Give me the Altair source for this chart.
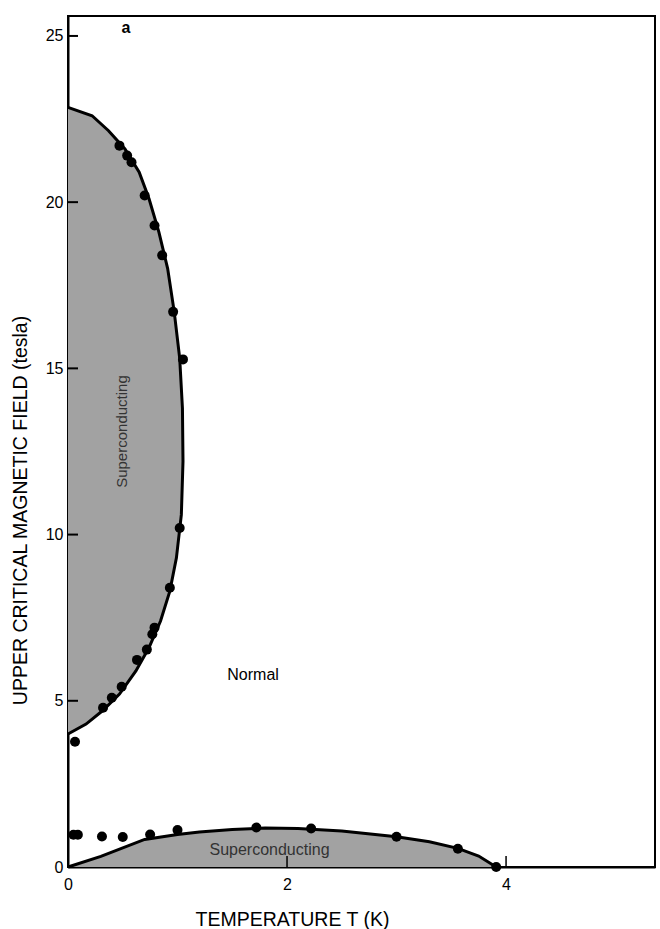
import altair as alt
import pandas as pd

# Upper superconducting dome boundary (T in K, field in tesla)
upper_curve_t = [0, 0.22, 0.37, 0.52, 0.65, 0.74, 0.83, 0.91, 0.97, 1.02, 1.045, 1.05,
                 1.035, 0.99, 0.93, 0.845, 0.74, 0.62, 0.47, 0.315, 0.165, 0]
upper_curve_h = [22.85, 22.6, 22.15, 21.6, 20.9, 20.1, 19.1, 18.0, 16.7, 15.3, 13.8, 12.2,
                 10.6, 9.3, 8.3, 7.4, 6.6, 5.9, 5.2, 4.7, 4.3, 4.0]

# Lower superconducting dome boundary
lower_curve_t = [0, 0.3, 0.7, 1.0, 1.2, 1.5, 1.8, 2.1, 2.5, 3.0, 3.3, 3.56, 3.75, 3.91]
lower_curve_h = [0, 0.32, 0.83, 0.98, 1.05, 1.13, 1.17, 1.16, 1.08, 0.91, 0.76, 0.56, 0.33, 0]

# Measured points
upper_pts_t = [0.064, 0.32, 0.40, 0.49, 0.63, 0.72, 0.77, 0.79, 0.93, 1.02, 1.05, 0.96,
               0.86, 0.79, 0.70, 0.58, 0.54, 0.47]
upper_pts_h = [3.77, 4.79, 5.09, 5.42, 6.23, 6.54, 7.0, 7.2, 8.4, 10.2, 15.27, 16.7,
               18.4, 19.3, 20.2, 21.2, 21.4, 21.7]
lower_pts_t = [0.05, 0.09, 0.31, 0.50, 0.75, 1.00, 1.72, 2.22, 3.00, 3.56, 3.91]
lower_pts_h = [0.97, 0.97, 0.92, 0.90, 0.98, 1.11, 1.19, 1.16, 0.91, 0.55, 0.0]

# Axis ticks
x_ticks = [0, 2, 4]
y_ticks = [0, 5, 10, 15, 20, 25]

# Annotations
labels_text = ["Normal", "a"]
labels_t = [1.69, 0.53]
labels_h = [5.77, 25.25]
sc_text = ["Superconducting", "Superconducting"]
sc_t = [0.49, 1.84]
sc_h = [13.1, 0.51]
sc_angle = [270, 0]

FONT = "Liberation Sans"
XDOM = [0, 5.36]
YDOM = [0, 25.6]
FILL = "#a2a2a2"

upper_df = pd.DataFrame({"t": upper_curve_t, "h": upper_curve_h,
                         "z": [0.0] * len(upper_curve_t),
                         "i": list(range(len(upper_curve_t)))})
lower_df = pd.DataFrame({"t": lower_curve_t, "h": lower_curve_h,
                         "z": [0.0] * len(lower_curve_t),
                         "i": list(range(len(lower_curve_t)))})
pts_df = pd.DataFrame({"t": upper_pts_t + lower_pts_t, "h": upper_pts_h + lower_pts_h})
lab_df = pd.DataFrame({"t": labels_t, "h": labels_h, "txt": labels_text})
sc_df = pd.DataFrame({"t": sc_t, "h": sc_h, "txt": sc_text, "ang": sc_angle})
xt_df = pd.DataFrame({"v": [v for v in x_ticks if v != 0]})
yt_df = pd.DataFrame({"v": [v for v in y_ticks if v != 0]})

xscale = alt.Scale(domain=XDOM, nice=False, zero=False)
yscale = alt.Scale(domain=YDOM, nice=False, zero=False)

xaxis = alt.Axis(values=x_ticks, format="d", title="TEMPERATURE T (K)", grid=False, ticks=False,
                 tickSize=0, labelFlush=False, labelPadding=9, labelFontSize=16, labelFont=FONT,
                 labelColor="black", domainColor="black", domainWidth=2,
                 titleFont=FONT, titleFontSize=19.5, titleFontWeight="normal", titleColor="black",
                 titleX=224, titleY=58, titleBaseline="alphabetic", titleAlign="center")
yaxis = alt.Axis(values=y_ticks, format="d", title="UPPER CRITICAL MAGNETIC FIELD (tesla)",
                 grid=False, ticks=False, tickSize=0, labelFlush=False, labelPadding=5,
                 labelFontSize=16, labelFont=FONT, labelColor="black", labelBaseline="middle",
                 domainColor="black", domainWidth=2,
                 titleFont=FONT, titleFontSize=19.5, titleFontWeight="normal", titleColor="black",
                 titleX=-48, titleY=494, titleBaseline="middle", titleAlign="center", titleAngle=270)

upper_area = alt.Chart(upper_df).mark_area(orient="horizontal", color=FILL).encode(
    x=alt.X("t:Q", scale=xscale, axis=xaxis), x2="z:Q",
    y=alt.Y("h:Q", scale=yscale, axis=yaxis))
upper_line = alt.Chart(upper_df).mark_line(color="black", strokeWidth=3).encode(
    x="t:Q", y="h:Q", order=alt.Order("i:Q"))
lower_area = alt.Chart(lower_df).mark_area(color=FILL).encode(
    x="t:Q", y="h:Q", y2="z:Q")
lower_line = alt.Chart(lower_df).mark_line(color="black", strokeWidth=3).encode(
    x="t:Q", y="h:Q", order=alt.Order("i:Q"))
points = alt.Chart(pts_df).mark_circle(color="black", size=100, opacity=1).encode(
    x="t:Q", y="h:Q")

normal_txt = alt.Chart(lab_df[lab_df.txt == "Normal"]).mark_text(
    font=FONT, fontSize=16, color="black").encode(x="t:Q", y="h:Q", text="txt:N")
a_txt = alt.Chart(lab_df[lab_df.txt == "a"]).mark_text(
    font=FONT, fontSize=16, fontWeight="bold", color="black").encode(x="t:Q", y="h:Q", text="txt:N")
sc_up = alt.Chart(sc_df[sc_df.ang == 270]).mark_text(
    font=FONT, fontSize=15, color="#333333", angle=270).encode(x="t:Q", y="h:Q", text="txt:N")
sc_low = alt.Chart(sc_df[sc_df.ang == 0]).mark_text(
    font=FONT, fontSize=16, color="#333333").encode(x="t:Q", y="h:Q", text="txt:N")

ytick_marks = alt.Chart(yt_df).mark_rule(color="black", strokeWidth=2).encode(
    y="v:Q", x=alt.value(0), x2=alt.value(10))
xtick_marks = alt.Chart(xt_df).mark_rule(color="black", strokeWidth=1.5).encode(
    x="v:Q", y=alt.value(851), y2=alt.value(840))

chart = alt.layer(
    upper_area, lower_area, upper_line, lower_line, points,
    ytick_marks, xtick_marks, normal_txt, a_txt, sc_up, sc_low
).resolve_scale(x="shared", y="shared").properties(
    width=587, height=851,
    padding={"left": 68, "top": 16, "right": 5, "bottom": 62},
    autosize=alt.AutoSizeParams(type="none"),
    background="white",
).configure_view(stroke="black", strokeWidth=2)

chart.save("out.html", embed_options={"renderer": "svg", "actions": False})
